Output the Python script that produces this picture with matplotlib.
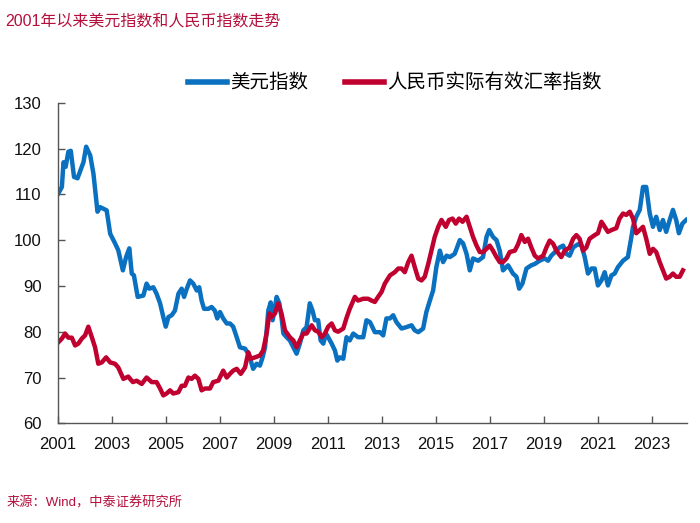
import matplotlib
matplotlib.use("Agg")
import matplotlib.pyplot as plt

plt.rcParams['font.family'] = ['Liberation Sans', 'Noto Sans CJK SC', 'DejaVu Sans']

title = "2001年以来美元指数和人民币指数走势"
source = "来源：Wind，中泰证券研究所"
usd_label = "美元指数"
cny_label = "人民币实际有效汇率指数"

usd_t = [2001.01, 2001.14, 2001.20, 2001.28, 2001.38, 2001.47, 2001.59, 2001.72, 2001.94, 2002.04,
         2002.19, 2002.31, 2002.46, 2002.56, 2002.80, 2002.93, 2003.11, 2003.23, 2003.40, 2003.52,
         2003.64, 2003.73, 2003.81, 2003.95, 2004.16, 2004.28, 2004.38, 2004.53, 2004.65, 2004.78,
         2004.90, 2004.99, 2005.09, 2005.21, 2005.33, 2005.46, 2005.58, 2005.67, 2005.77, 2005.89,
         2006.01, 2006.14, 2006.23, 2006.32, 2006.41, 2006.57, 2006.69, 2006.81, 2006.90, 2007.00,
         2007.12, 2007.25, 2007.37, 2007.49, 2007.62, 2007.74, 2007.93, 2008.05, 2008.14, 2008.23,
         2008.36, 2008.48, 2008.58, 2008.67, 2008.73, 2008.79, 2008.88, 2008.95, 2009.00, 2009.10,
         2009.20, 2009.28, 2009.35, 2009.47, 2009.59, 2009.72, 2009.84, 2009.96, 2010.09, 2010.21,
         2010.33, 2010.43, 2010.52, 2010.64, 2010.73, 2010.83, 2010.93, 2011.01, 2011.14, 2011.26,
         2011.35, 2011.44, 2011.57, 2011.69, 2011.81, 2011.94, 2012.12, 2012.31, 2012.43, 2012.56,
         2012.74, 2012.93, 2013.05, 2013.17, 2013.30, 2013.42, 2013.54, 2013.73, 2013.91, 2014.10,
         2014.22, 2014.35, 2014.53, 2014.65, 2014.78, 2014.90, 2015.02, 2015.15, 2015.27, 2015.40,
         2015.52, 2015.70, 2015.89, 2016.01, 2016.14, 2016.26, 2016.38, 2016.57, 2016.75, 2016.88,
         2016.98, 2017.12, 2017.25, 2017.37, 2017.49, 2017.68, 2017.86, 2017.99, 2018.09, 2018.21,
         2018.36, 2018.54, 2018.67, 2018.85, 2019.04, 2019.16, 2019.28, 2019.47, 2019.59, 2019.72,
         2019.84, 2019.96, 2020.09, 2020.27, 2020.40, 2020.52, 2020.64, 2020.77, 2020.89, 2021.01,
         2021.14, 2021.26, 2021.38, 2021.51, 2021.63, 2021.75, 2021.94, 2022.12, 2022.25, 2022.31,
         2022.43, 2022.56, 2022.68, 2022.80, 2022.93, 2023.05, 2023.17, 2023.30, 2023.42, 2023.54,
         2023.67, 2023.79, 2023.91, 2024.01, 2024.14, 2024.28]
usd_v = [110.2, 111.6, 117.0, 116.0, 119.3, 119.5, 113.8, 113.5, 117.0, 120.4,
         118.5, 114.5, 106.2, 107.2, 106.5, 101.4, 99.3, 97.8, 93.4, 96.3,
         98.2, 92.7, 92.3, 87.6, 87.9, 90.5, 89.4, 89.7, 88.3, 86.2,
         83.2, 81.1, 83.2, 83.6, 84.6, 88.3, 89.4, 87.6, 89.4, 91.2,
         90.5, 89.0, 89.7, 86.8, 85.0, 85.0, 85.4, 84.6, 82.9, 84.3,
         82.9, 81.8, 81.8, 81.1, 78.8, 76.6, 76.3, 75.2, 73.7, 71.9,
         73.0, 72.6, 74.4, 76.6, 80.3, 84.6, 86.4, 82.5, 84.0, 87.6,
         86.2, 83.2, 79.6, 78.8, 78.1, 76.6, 75.2, 77.4, 80.3, 81.0,
         86.2, 84.6, 82.5, 82.5, 78.1, 77.4, 79.6, 78.8, 77.4, 75.9,
         73.7, 74.4, 74.1, 78.8, 78.1, 79.6, 78.8, 78.8, 82.5, 82.1,
         79.9, 79.9, 79.2, 82.9, 82.9, 83.6, 82.1, 80.7, 81.0, 81.4,
         80.3, 79.9, 80.7, 84.3, 86.8, 89.0, 94.1, 97.7, 95.2, 96.6,
         96.3, 97.0, 100.0, 99.3, 97.0, 93.4, 96.0, 95.5, 96.3, 100.7,
         102.2, 100.7, 100.0, 97.7, 93.4, 94.5, 92.7, 92.0, 89.4, 90.5,
         93.8, 94.5, 94.8, 95.5, 96.0, 95.5, 96.6, 97.7, 98.4, 98.8,
         97.0, 96.6, 98.4, 99.1, 98.8, 96.3, 92.7, 93.8, 93.8, 90.1,
         91.2, 93.0, 90.1, 92.3, 92.7, 94.1, 95.5, 96.3, 100.7, 102.9,
         105.1, 106.6, 111.6, 111.6, 105.8, 102.9, 105.1, 102.2, 104.4, 101.8,
         104.4, 106.6, 104.4, 101.5, 103.6, 104.4]

cny_t = [2001.01, 2001.14, 2001.26, 2001.38, 2001.51, 2001.63, 2001.75, 2001.88, 2002.00, 2002.12,
         2002.25, 2002.37, 2002.49, 2002.62, 2002.78, 2002.93, 2003.11, 2003.23, 2003.42, 2003.60,
         2003.77, 2003.91, 2004.10, 2004.28, 2004.47, 2004.65, 2004.78, 2004.90, 2005.02, 2005.15,
         2005.27, 2005.46, 2005.58, 2005.70, 2005.83, 2005.95, 2006.07, 2006.20, 2006.32, 2006.44,
         2006.63, 2006.75, 2006.94, 2007.12, 2007.25, 2007.37, 2007.49, 2007.62, 2007.77, 2007.93,
         2008.05, 2008.14, 2008.30, 2008.48, 2008.60, 2008.73, 2008.83, 2008.91, 2009.04, 2009.16,
         2009.28, 2009.41, 2009.59, 2009.72, 2009.84, 2009.96, 2010.09, 2010.21, 2010.40, 2010.52,
         2010.64, 2010.77, 2010.89, 2011.01, 2011.14, 2011.26, 2011.38, 2011.57, 2011.69, 2011.81,
         2012.00, 2012.12, 2012.31, 2012.49, 2012.62, 2012.74, 2012.86, 2012.99, 2013.11, 2013.30,
         2013.48, 2013.61, 2013.73, 2013.85, 2013.98, 2014.10, 2014.22, 2014.35, 2014.47, 2014.59,
         2014.72, 2014.84, 2014.96, 2015.09, 2015.21, 2015.37, 2015.49, 2015.62, 2015.74, 2015.86,
         2015.99, 2016.14, 2016.26, 2016.38, 2016.51, 2016.63, 2016.75, 2016.88, 2017.00, 2017.12,
         2017.25, 2017.37, 2017.49, 2017.62, 2017.74, 2017.93, 2018.05, 2018.17, 2018.30, 2018.42,
         2018.54, 2018.67, 2018.79, 2018.98, 2019.10, 2019.22, 2019.35, 2019.47, 2019.65, 2019.78,
         2019.96, 2020.09, 2020.21, 2020.33, 2020.46, 2020.58, 2020.70, 2020.89, 2021.01, 2021.14,
         2021.26, 2021.38, 2021.51, 2021.69, 2021.81, 2021.94, 2022.06, 2022.19, 2022.31, 2022.43,
         2022.56, 2022.68, 2022.80, 2022.93, 2023.05, 2023.17, 2023.30, 2023.42, 2023.54, 2023.67,
         2023.79, 2023.91, 2024.04, 2024.16]
cny_v = [77.7, 78.5, 79.6, 78.7, 78.7, 77.0, 77.4, 78.5, 79.2, 81.1,
         78.8, 76.6, 73.0, 73.3, 74.4, 73.3, 73.0, 72.2, 69.7, 70.2,
         69.0, 69.3, 68.6, 70.0, 69.0, 69.0, 67.6, 66.1, 66.5, 67.2,
         66.5, 66.8, 68.2, 68.2, 70.0, 69.7, 70.4, 69.7, 67.2, 67.6,
         67.6, 69.0, 69.3, 71.5, 70.0, 70.8, 71.5, 71.9, 70.8, 72.2,
         75.5, 74.1, 74.4, 74.8, 75.9, 79.6, 84.0, 83.2, 84.0, 86.2,
         84.0, 80.3, 78.8, 78.1, 76.6, 78.1, 79.6, 79.6, 81.4, 80.3,
         80.0, 78.8, 79.6, 81.1, 81.8, 80.3, 80.0, 80.7, 83.0, 85.0,
         87.6, 86.8, 87.2, 87.2, 86.8, 86.5, 87.6, 88.7, 90.5, 92.3,
         93.0, 93.8, 93.8, 93.0, 95.2, 96.6, 94.1, 91.6, 91.2, 92.0,
         94.8, 97.7, 100.7, 102.9, 104.4, 102.9, 104.4, 104.7, 103.6, 104.7,
         104.0, 105.1, 102.9, 100.7, 98.8, 97.4, 97.4, 98.1, 98.8, 97.7,
         96.3, 95.2, 95.2, 96.0, 97.4, 97.7, 99.1, 101.1, 99.6, 100.3,
         98.4, 96.6, 96.0, 96.6, 98.4, 99.9, 99.2, 97.7, 96.3, 97.7,
         98.4, 100.3, 101.1, 100.3, 97.7, 98.4, 100.3, 101.1, 101.5, 104.0,
         102.9, 101.8, 102.2, 102.6, 104.7, 105.8, 105.5, 106.2, 104.7, 101.5,
         102.2, 102.9, 100.3, 97.0, 98.1, 97.4, 95.2, 93.4, 91.6, 92.0,
         92.7, 92.0, 92.0, 93.4]

x_ticks = [2001, 2003, 2005, 2007, 2009, 2011, 2013, 2015, 2017, 2019, 2021, 2023]
y_ticks = [60, 70, 80, 90, 100, 110, 120, 130]

BLUE = "#0a70c0"
RED = "#c0002f"
TXT_RED = "#b5103c"

fig = plt.figure(figsize=(7.0, 5.23), dpi=100)
ax = fig.add_axes([0.083, 0.1906, 0.898, 0.613])

ax.plot(usd_t, usd_v, color=BLUE, lw=3.2, label=usd_label, solid_joinstyle='round')
ax.plot(cny_t, cny_v, color=RED, lw=3.2, label=cny_label, solid_joinstyle='round')

ax.set_xlim(2001, 2024.3)
ax.set_ylim(60, 130)
ax.set_xticks(x_ticks)
ax.set_xticklabels([str(t) for t in x_ticks])
ax.set_yticks(y_ticks)
for s in ['top', 'right']:
    ax.spines[s].set_visible(False)
for s in ['left', 'bottom']:
    ax.spines[s].set_color('#555555')
    ax.spines[s].set_linewidth(1.0)
ax.tick_params(direction='in', length=5, width=1.0, color='#555555',
               labelsize=12, labelcolor='#111111')
ax.tick_params(axis='y', pad=12)
ax.tick_params(axis='x', pad=10)

leg = fig.legend(loc='center', bbox_to_anchor=(0.564, 0.841), ncol=2, frameon=False,
                 fontsize=14, handlelength=2.0, columnspacing=1.9, handletextpad=0.15)
for h in leg.get_lines():
    h.set_linewidth(4)

fig.text(0.008, 0.975, title, color=TXT_RED, fontsize=11.5, ha='left', va='top')
fig.text(0.01, 0.038, source, color=TXT_RED, fontsize=9.5, ha='left', va='center')

fig.savefig("out.png", dpi=100)
